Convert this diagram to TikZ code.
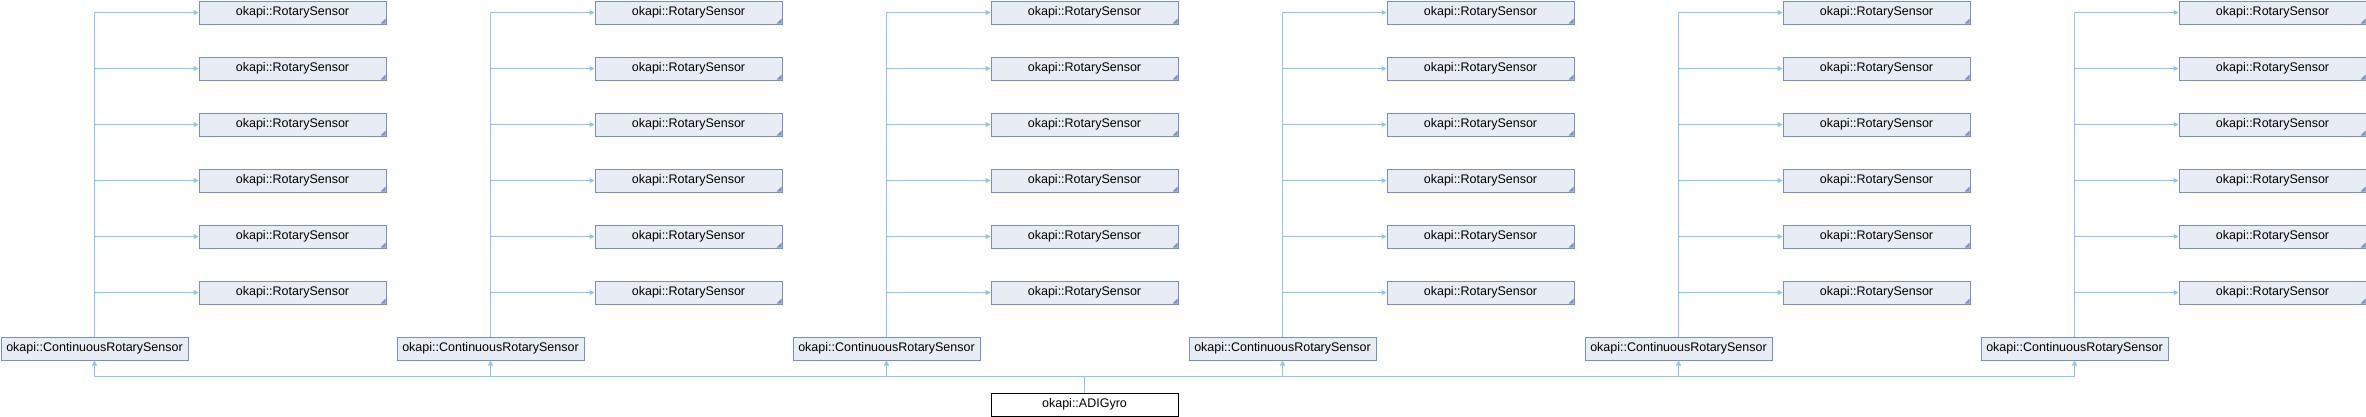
\documentclass[tikz,border=0pt]{standalone}
\usepackage{fontspec}
\setmainfont{Liberation Sans}
\usetikzlibrary{arrows.meta}
\definecolor{boxfill}{HTML}{E8ECF4}
\definecolor{boxline}{HTML}{7A8EC8}
\definecolor{edgecol}{HTML}{8CC8EA}
\begin{document}
\begin{tikzpicture}[x=1pt,y=-1pt,
 cls/.style={draw=boxline, fill=boxfill, line width=1pt, minimum width=187pt, minimum height=23pt, inner sep=0pt, anchor=north west, font=\fontsize{12.5}{14}\selectfont},
 rs/.style={cls, path picture={\fill[boxline] ([xshift=-0.5pt,yshift=0.5pt]path picture bounding box.south east) -- ++(-5pt,0) -- ++(5pt,5pt) -- cycle;}},
 edge/.style={draw=edgecol, line width=1pt, -{Triangle[length=5pt,width=5pt]}}]
\useasboundingbox (0,0) rectangle (2366,416);
\foreach \k in {0,...,5} {
  \node[cls] (c\k) at (0.5+396*\k, 336.5) {okapi::ContinuousRotarySensor};
  \foreach \j in {0,...,5} {
    \node[rs] (r\k\j) at (198.5+396*\k, 0.5+56*\j) {okapi::RotarySensor};
    \draw[edge] (c\k.north) |- (r\k\j.west);
  }
}
\node[cls, draw=black, fill=white] (g) at (990.5,392.5) {okapi::ADIGyro};
\foreach \k in {0,...,5} \draw[edge] (g.north) -- ++(0,-16) -| (c\k.south);
\end{tikzpicture}
\end{document}
